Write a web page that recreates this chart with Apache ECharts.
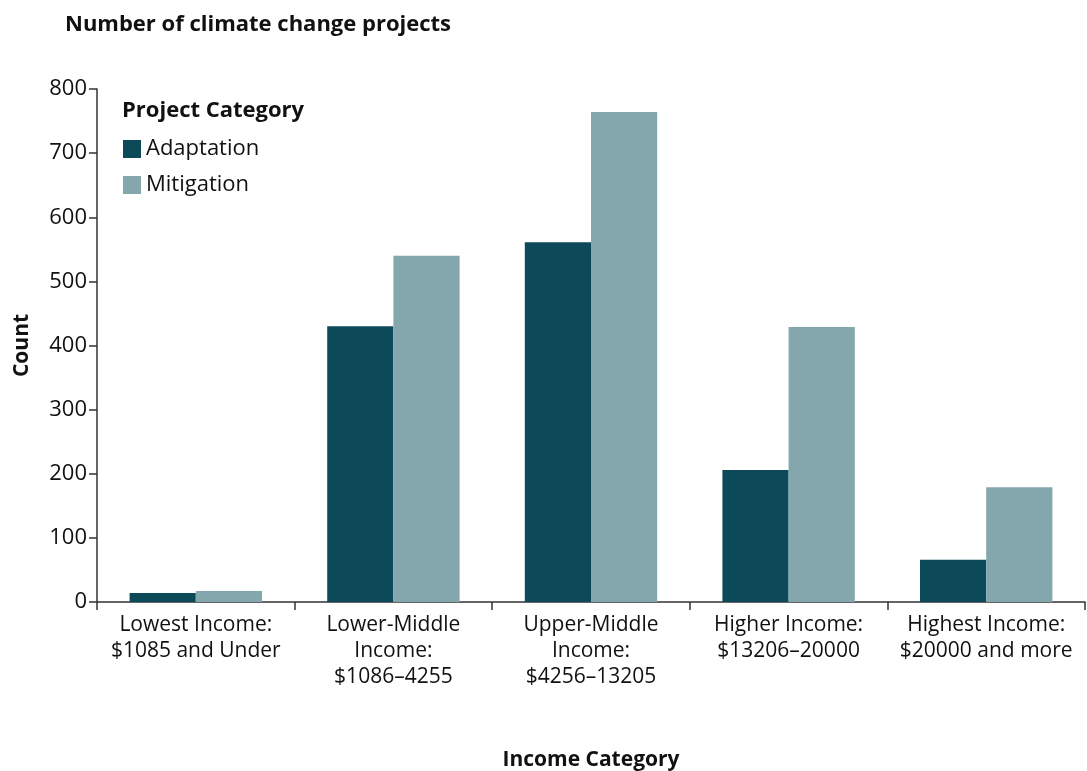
<!DOCTYPE html>
<html>
<head>
<meta charset="utf-8">
<script src="https://cdn.jsdelivr.net/npm/echarts@6/dist/echarts.min.js"></script>
<style>html,body{margin:0;padding:0;background:#fff}#c{width:1087px;height:771px}</style>
</head>
<body>
<div id="c"></div>
<script>
const categories = ["Lowest Income:\n$1085 and Under", "Lower-Middle\nIncome:\n$1086\u20134255", "Upper-Middle\nIncome:\n$4256\u201313205", "Higher Income:\n$13206\u201320000", "Highest Income:\n$20000 and more"];
const adaptation = [14, 430, 561, 206, 66];
const mitigation = [17, 540, 764, 429, 179];
const yTicks = [0, 100, 200, 300, 400, 500, 600, 700, 800];

const FONT = "'Open Sans', sans-serif";
const chart = echarts.init(document.getElementById('c'), null, {renderer: 'canvas'});
chart.setOption({
  animation: false,
  backgroundColor: '#fff',
  title: {
    text: 'Number of climate change projects',
    left: 60, top: 9,
    textStyle: {fontFamily: FONT, fontSize: 22, fontWeight: 'bold', color: '#111'}
  },
  graphic: [{
    type: 'text', left: 122, top: 100,
    style: {text: 'Project Category', fontFamily: FONT, fontSize: 22, fontWeight: 'bold', fill: '#111'}
  }],
  legend: {
    orient: 'vertical', left: 118, top: 133,
    itemWidth: 18, itemHeight: 18, itemGap: 14,
    icon: 'rect',
    textStyle: {fontFamily: FONT, fontSize: 22, color: '#111'},
    data: ['Adaptation', 'Mitigation']
  },
  grid: {left: 97, right: 2, top: 89, bottom: 169, containLabel: false, outerBoundsMode: 'none'},
  xAxis: {
    type: 'category',
    data: categories,
    name: 'Income Category',
    nameLocation: 'middle',
    nameGap: 148,
    nameTextStyle: {fontFamily: FONT, fontSize: 21, fontWeight: 'bold', color: '#111'},
    axisLine: {lineStyle: {color: '#333', width: 1.5}},
    axisTick: {show: true, length: 8, alignWithLabel: false, lineStyle: {color: '#333', width: 1.5}},
    axisLabel: {fontFamily: FONT, fontSize: 21, color: '#111', lineHeight: 26, margin: 10, interval: 0}
  },
  yAxis: {
    type: 'value',
    min: 0, max: 800, interval: 100,
    name: 'Count',
    nameLocation: 'middle',
    nameGap: 64,
    nameRotate: 90,
    nameTextStyle: {fontFamily: FONT, fontSize: 21, fontWeight: 'bold', color: '#111'},
    axisLine: {show: true, lineStyle: {color: '#333', width: 1.5}},
    axisTick: {show: true, length: 8, lineStyle: {color: '#333', width: 1.5}},
    splitLine: {show: false},
    axisLabel: {fontFamily: FONT, fontSize: 22, color: '#111', margin: 10,
      formatter: v => yTicks.includes(v) ? String(v) : ''}
  },
  series: [
    {name: 'Adaptation', type: 'bar', data: adaptation, barGap: '0%', barCategoryGap: '33%',
     itemStyle: {color: '#0C4A5A'}},
    {name: 'Mitigation', type: 'bar', data: mitigation, barGap: '0%', barCategoryGap: '33%',
     itemStyle: {color: '#84A6AD'}}
  ]
});
</script>
</body>
</html>
